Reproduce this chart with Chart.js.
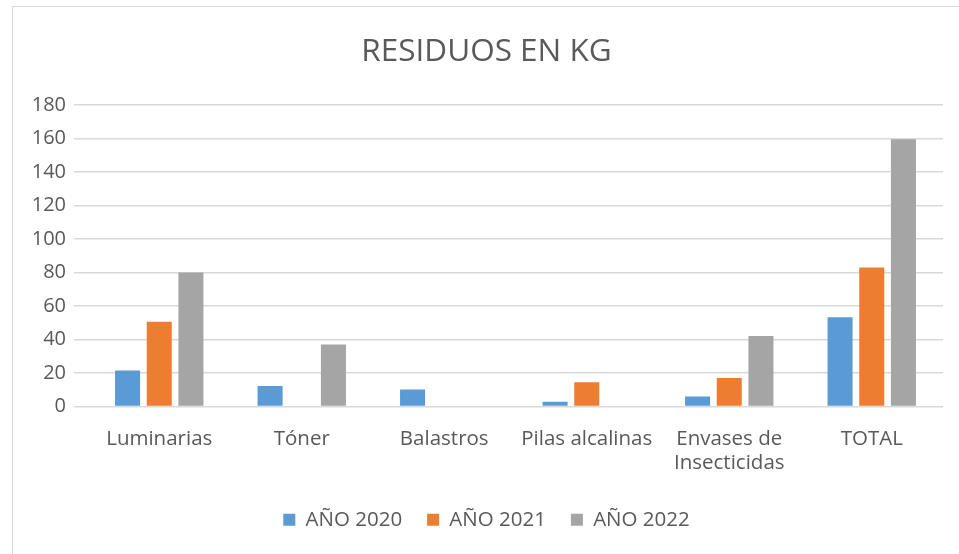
<!DOCTYPE html>
<html>
<head>
<meta charset="utf-8">
<script src="https://cdn.jsdelivr.net/npm/chart.js@4"></script>
<style>
  body { margin: 0; background: #fff; }
  #wrap { position: relative; width: 959px; height: 554px; }
  #frame { position: absolute; left: 12px; top: 6px; width: 960px; height: 560px; border: 1px solid #d9d9d9; box-sizing: border-box; }
  canvas { position: absolute; left: 0; top: 0; }
</style>
</head>
<body>
<div id="wrap">
  <div id="frame"></div>
  <canvas id="residuos" width="959" height="554"></canvas>
</div>
<script>
// residuos por categoría, en kg
categorias = ["Luminarias", "Tóner", "Balastros", "Pilas alcalinas", ["Envases de", "Insecticidas"], "TOTAL"];
anio2020 = [21.5, 12.3, 10.2, 2.8, 6, 53.2];
anio2021 = [50.5, 0, 0, 14.5, 17, 83];
anio2022 = [80, 37, 0, 0, 42, 159.5];
ticksY = [0, 20, 40, 60, 80, 100, 120, 140, 160, 180];

const gris = "#595959";
const fuente = "'Open Sans', sans-serif";

const dataObj = {
    labels: categorias,
    datasets: [
        { label: "AÑO 2020", data: anio2020, backgroundColor: "#5B9BD5" },
        { label: "AÑO 2021", data: anio2021, backgroundColor: "#ED7D31" },
        { label: "AÑO 2022", data: anio2022, backgroundColor: "#A5A5A5" }
    ]
};

new Chart("residuos", {
    type: "bar",
    data: dataObj,
    options: {
        responsive: false,
        animation: false,
        categoryPercentage: 0.667,
        barPercentage: 0.79,
        layout: { padding: { left: 30, right: 16, top: 0, bottom: 14 } },
        plugins: {
            title: {
                display: true,
                text: "RESIDUOS EN KG",
                color: gris,
                font: { family: fuente, size: 31.5, weight: "normal", lineHeight: 1.2 },
                padding: { top: 33, bottom: 34 }
            },
            legend: {
                position: "bottom",
                labels: {
                    color: gris,
                    font: { family: fuente, size: 20.5 },
                    boxWidth: 12,
                    boxHeight: 12,
                    padding: 25
                }
            },
            tooltip: { enabled: false }
        },
        scales: {
            x: {
                grid: { display: false },
                border: { display: false },
                ticks: { color: gris, font: { family: fuente, size: 20.5 }, maxRotation: 0, autoSkip: false, padding: 12 },
                afterFit: function (axis) { axis.height = 78; }
            },
            y: {
                min: 0,
                max: 180,
                afterBuildTicks: function (axis) { axis.ticks = ticksY.map(v => ({ value: v })); },
                grid: { color: "#d9d9d9", lineWidth: 1.5, drawTicks: true, tickLength: 14, tickColor: "#d9d9d9" },
                border: { display: false },
                ticks: { color: gris, font: { family: fuente, size: 20 }, padding: 8 },
                afterFit: function (axis) { axis.width = 58; }
            }
        }
    }
});
</script>
</body>
</html>
